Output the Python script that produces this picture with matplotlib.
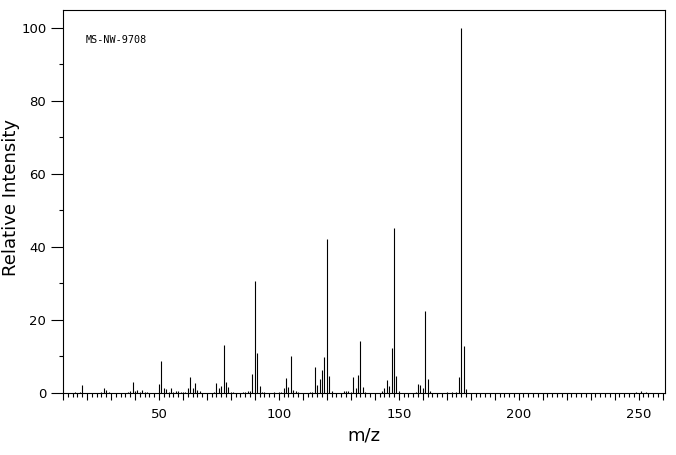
# Mass spectrum MS-NW-9708 - stick plot of relative intensity vs m/z

import matplotlib
matplotlib.use("Agg")
import matplotlib.pyplot as plt
from matplotlib.ticker import MultipleLocator, FuncFormatter

# --- peak list (m/z, relative intensity %) ---
mz = [15, 17, 18, 26, 27, 28, 29, 37, 38, 39, 40, 41, 42, 43, 44, 45,
      50, 51, 52, 53, 54, 55, 56, 57, 58, 59, 60, 61, 62, 63, 64, 65, 66, 67,
      73, 74, 75, 76, 77, 78, 79, 80, 81, 85, 86, 87, 88, 89, 90, 91, 92, 93, 94,
      98, 100, 101, 102, 103, 104, 105, 106, 107, 108,
      113, 114, 115, 116, 117, 118, 119, 120, 121, 122,
      127, 128, 129, 130, 131, 132, 133, 134, 135, 136,
      143, 144, 145, 146, 147, 148, 149, 150,
      157, 158, 159, 160, 161, 162, 163,
      170, 172, 174, 175, 176, 177, 178,
      249, 251, 253]
intensity = [0.3, 0.3, 2.2, 0.3, 1.3, 0.8, 0.3, 0.3, 0.5, 3.0, 0.5, 0.8, 0.4, 0.8, 0.3, 0.3,
             2.5, 8.8, 1.3, 1.1, 0.3, 1.3, 0.4, 0.6, 0.5, 0.3, 0.3, 0.3, 1.4, 4.4, 1.3, 2.7, 0.8, 0.5,
             0.3, 2.7, 1.4, 1.9, 13.2, 3.0, 1.6, 0.4, 0.3, 0.3, 0.3, 0.5, 0.5, 5.2, 30.6, 11.0, 1.9, 0.3, 0.3,
             0.3, 0.3, 0.3, 1.4, 4.1, 1.6, 10.1, 0.8, 0.5, 0.3,
             0.3, 0.3, 7.1, 2.2, 3.8, 6.3, 9.9, 42.2, 4.7, 0.5,
             0.5, 0.5, 0.5, 0.3, 4.4, 1.4, 4.9, 14.2, 1.6, 0.3,
             0.5, 1.4, 3.6, 1.9, 12.3, 45.3, 4.7, 0.5,
             0.3, 2.5, 2.2, 1.4, 22.5, 3.8, 0.5,
             0.3, 0.3, 0.3, 4.4, 100.0, 12.9, 1.1,
             0.3, 0.5, 0.3]

spectrum_id = "MS-NW-9708"

fig = plt.figure(figsize=(6.76, 4.55), dpi=100)
ax = fig.add_axes([63 / 676, 62 / 455, 602 / 676, 383 / 455])

ax.vlines(mz, 0, intensity, colors="black", linewidth=0.8)

ax.set_xlim(10, 261)
ax.set_ylim(0, 104.9)

# x ticks: long every 10, short every 2, labels every 50
ax.xaxis.set_major_locator(MultipleLocator(10))
ax.xaxis.set_minor_locator(MultipleLocator(2))
ax.xaxis.set_major_formatter(FuncFormatter(lambda v, p: f"{int(v)}" if v % 50 == 0 else ""))
ax.tick_params(axis="x", which="major", length=5, width=0.8, direction="out", pad=6)
ax.tick_params(axis="x", which="minor", length=3, width=0.8, direction="out")

# y ticks: labelled every 20, short every 10
ax.yaxis.set_major_locator(MultipleLocator(20))
ax.yaxis.set_minor_locator(MultipleLocator(10))
ax.tick_params(axis="y", which="major", length=9, width=0.8, direction="out", pad=3)
ax.tick_params(axis="y", which="minor", length=3, width=0.8, direction="out")
ax.tick_params(labelsize=9.5)

for sp in ax.spines.values():
    sp.set_linewidth(0.8)

ax.set_xlabel("m/z", fontsize=13, va="center")
ax.xaxis.set_label_coords(0.5, -0.11)
ax.set_ylabel("Relative Intensity", fontsize=13, va="center")
ax.yaxis.set_label_coords(-0.087, 0.51)

ax.text(19.6, 96.6, spectrum_id, fontsize=7.3, family="DejaVu Sans Mono", va="center", ha="left")

fig.savefig("out.png", dpi=100)
